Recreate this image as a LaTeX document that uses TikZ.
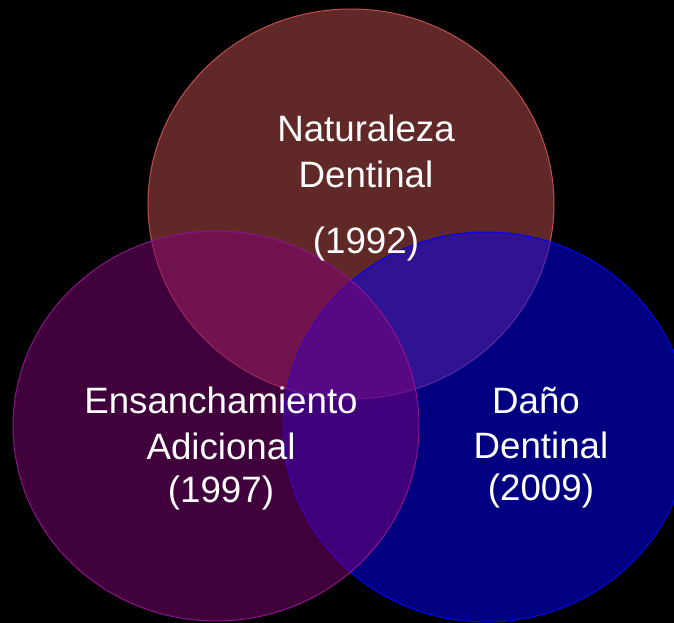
\documentclass[tikz,border=0pt]{standalone}
\usepackage{fontspec}
\setmainfont{Liberation Sans}
\definecolor{topc}{RGB}{192,80,77}
\definecolor{leftc}{RGB}{128,0,120}
\definecolor{leftb}{RGB}{140,20,140}
\definecolor{rightc}{RGB}{0,0,255}
\tikzset{
  set/.style={fill opacity=0.5, draw opacity=1, line width=1pt},
  lbl/.style={text=white, anchor=base, inner sep=0pt, font=\fontsize{36.7}{44}\selectfont}
}
\begin{document}
\begin{tikzpicture}[x=1pt,y=-1pt]
\fill[black] (0,0) rectangle (674,623);
\useasboundingbox (0,0) rectangle (674,623);
\draw[set, fill=topc, draw=topc] (351,204) ellipse [x radius=203pt, y radius=195pt];
\draw[set, fill=rightc, draw=rightc] (486,427) ellipse [x radius=203pt, y radius=195pt];
\draw[set, fill=leftc, draw=leftb] (216,426) ellipse [x radius=203pt, y radius=195pt];
\node[lbl] (t1) at (366,142) {Naturaleza};
\node[lbl] (t2) at (366,187) {Dentinal};
\node[lbl] (t3) at (366,253) {(1992)};
\node[lbl] (l1) at (221,413) {Ensanchamiento};
\node[lbl] (l2) at (221,459) {Adicional};
\node[lbl] (l3) at (221,502) {(1997)};
\node[lbl] (r1) at (536,413) {Daño};
\node[lbl] (r2) at (541,458) {Dentinal};
\node[lbl] (r3) at (541,500) {(2009)};
\end{tikzpicture}
\end{document}
